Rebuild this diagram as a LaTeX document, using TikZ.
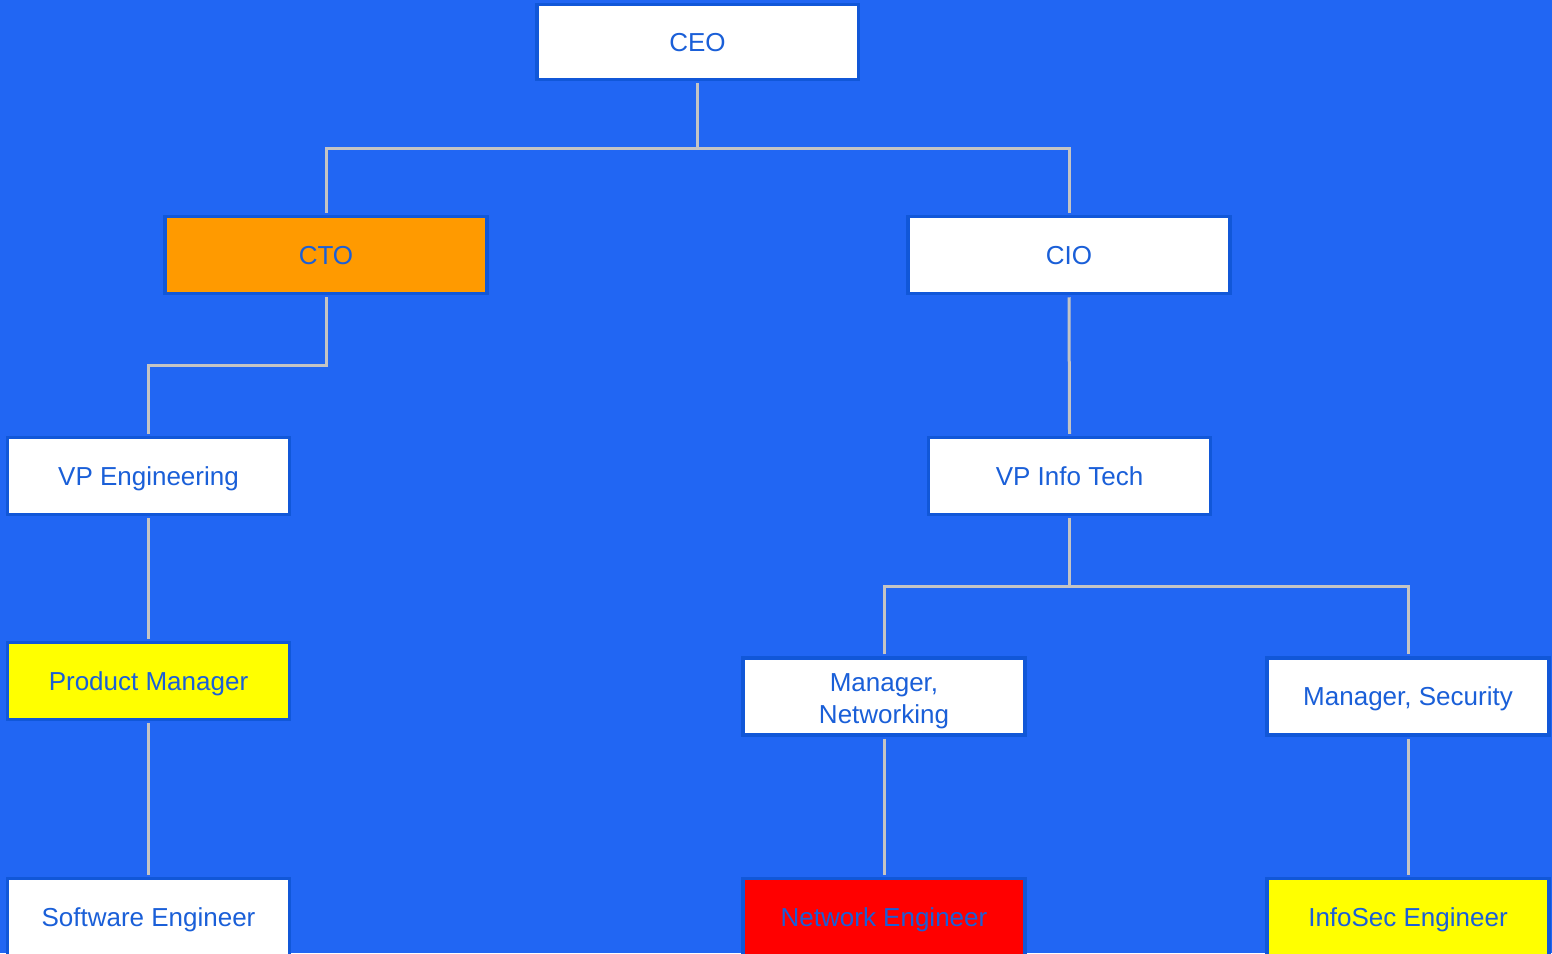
\documentclass[tikz,border=0pt]{standalone}
\usepackage{fontspec}
\setmainfont{Liberation Sans}
\definecolor{bg}{HTML}{2166F3}
\definecolor{bord}{HTML}{1157D8}
\definecolor{txt}{HTML}{1A5FD8}
\definecolor{lg}{HTML}{C4C4C4}
\definecolor{orangebox}{HTML}{FF9A00}
\definecolor{yellowbox}{HTML}{FFFF00}
\definecolor{redbox}{HTML}{FF0000}
\begin{document}
\begin{tikzpicture}[x=1pt,y=-1pt,
  base/.style={draw=bord, line width=3.5pt, minimum height=77pt, text=txt,
    font=\fontsize{26}{32}\selectfont, align=center, inner sep=0pt},
  box/.style={base, text height=23.4pt, text depth=4.6pt},
  wide/.style={box, minimum width=322pt},
  narrow/.style={box, minimum width=282pt},
  conn/.style={draw=lg, line width=3pt}]
\fill[bg] (0,0) rectangle (1552,953);
\useasboundingbox (0,0) rectangle (1552,953);
\node[box, fill=white, minimum width=321.5pt, minimum height=75pt] (ceo) at (697.5,42) {CEO};
\node[wide, fill=orangebox] (cto) at (326,255) {CTO};
\node[wide, fill=white] (cio) at (1069,255) {CIO};
\node[narrow, fill=white] (vpe) at (148.5,476) {VP Engineering};
\node[narrow, fill=white] (vpi) at (1069.5,476) {VP Info Tech};
\node[narrow, fill=yellowbox] (pm) at (148.5,681) {Product Manager};
\node[base, minimum width=282pt, fill=white] (mn) at (884,696.5) {\rule{0pt}{1.02em}Manager,\\Networking};
\node[narrow, fill=white] (ms) at (1408,696.5) {Manager, Security};
\node[narrow, fill=white] (se) at (148.5,917) {Software Engineer};
\node[narrow, fill=redbox] (ne) at (884,917) {Network Engineer};
\node[narrow, fill=yellowbox] (ie) at (1408,917) {InfoSec Engineer};
\coordinate (j1) at (697.5,148);
\coordinate (j2) at (326,365);
\coordinate (j3) at (1069.5,586);
\draw[conn] ([yshift=-2pt]ceo.south) -- (j1);
\draw[conn] ([yshift=2pt]cto.north) |- (j1) -| ([yshift=2pt]cio.north);
\draw[conn] ([yshift=-2pt]cto.south) -- (j2) -| ([yshift=2pt]vpe.north);
\draw[conn] ([yshift=-2pt]cio.south) -- ([yshift=2pt]vpi.north);
\draw[conn] ([yshift=-2pt]vpe.south) -- ([yshift=2pt]pm.north);
\draw[conn] ([yshift=-2pt]pm.south) -- ([yshift=2pt]se.north);
\draw[conn] ([yshift=-2pt]vpi.south) -- (j3);
\draw[conn] ([yshift=2pt]mn.north) |- (j3) -| ([yshift=2pt]ms.north);
\draw[conn] ([yshift=-2pt]mn.south) -- ([yshift=2pt]ne.north);
\draw[conn] ([yshift=-2pt]ms.south) -- ([yshift=2pt]ie.north);
\end{tikzpicture}
\end{document}
